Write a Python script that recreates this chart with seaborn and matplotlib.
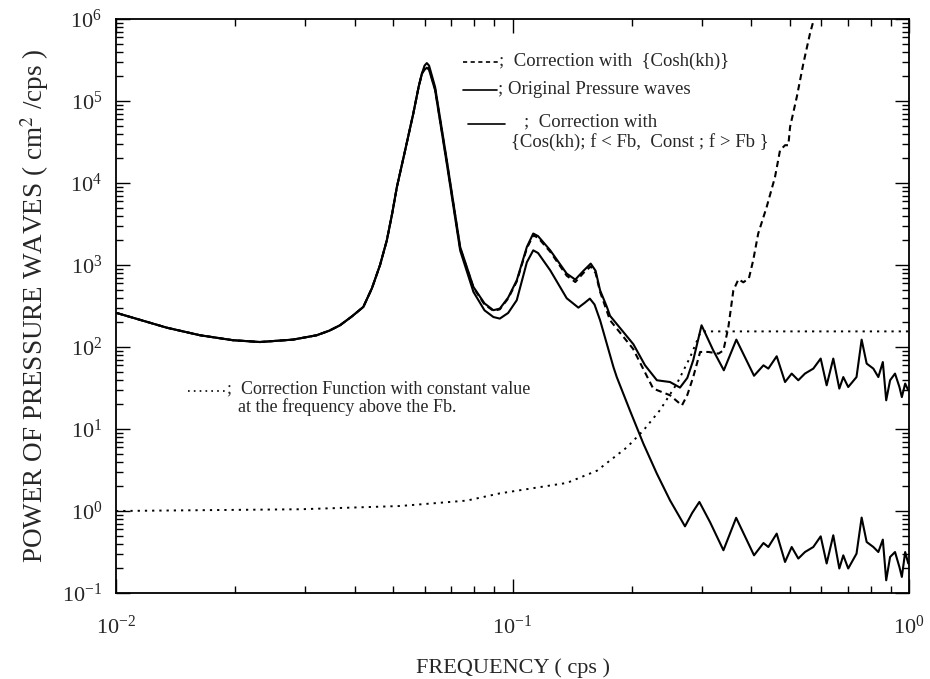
import numpy as np
import pandas as pd
import matplotlib
matplotlib.use("Agg")
import matplotlib.pyplot as plt
from matplotlib.ticker import LogLocator, LogFormatterMathtext, NullFormatter
import seaborn as sns

# ---------------- data ----------------
# part shared by the three spectra (below the main peak)
f_common = [0.01004, 0.01343, 0.01630, 0.01972, 0.02307, 0.02793, 0.03206,
            0.03450, 0.03672, 0.03930, 0.04205, 0.04420, 0.04634, 0.0482,
            0.0497, 0.0511, 0.0537, 0.0562, 0.0580, 0.0591]
p_common = [260, 172, 139, 121, 115, 123, 139, 158, 184, 235, 308, 520, 1000,
            2000, 4200, 8930, 26000, 70100, 150000, 216000]

# original pressure waves
f_orig = [0.0600, 0.0608, 0.0616, 0.0638, 0.0683, 0.0738, 0.0797, 0.0850,
          0.0895, 0.0929, 0.0975, 0.1025, 0.1087, 0.1128, 0.1160, 0.1245,
          0.137, 0.144, 0.1510, 0.1575, 0.1620, 0.1663, 0.173, 0.1762,
          0.2018, 0.2158, 0.2313, 0.2496, 0.2645, 0.2760, 0.2856, 0.2998,
          0.3208, 0.3412, 0.3669, 0.4066, 0.4295, 0.4418, 0.4638, 0.4868,
          0.5060, 0.5258, 0.5465, 0.5737, 0.5988, 0.6199, 0.6442, 0.6672,
          0.6828, 0.7026, 0.7373, 0.7595, 0.7820, 0.8130, 0.8369, 0.8590,
          0.8760, 0.8960, 0.9220, 0.9460, 0.9593, 0.9780, 0.9958]
p_orig = [270000, 290000, 270000, 148000, 18900, 1660, 540, 340, 281, 294,
          400, 650, 1660, 2420, 2250, 1510, 785, 664, 850, 1040, 850, 491, 308,
          240, 108, 60, 39.3, 37.4, 32.0, 42, 68.9, 184, 91, 52, 123, 44.6,
          59.8, 54.5, 77.1, 37.4, 47.4, 39.3, 47.4, 54.5, 72.3, 34.1, 72.3,
          31.1, 43, 32.5, 43, 123, 62.8, 54.5, 43, 65.6, 22.4, 39.3, 47.4,
          32.5, 24.5, 35.8, 29.6]

# correction with cosh(kh)
f_cosh = [0.0600, 0.0608, 0.0616, 0.0638, 0.0683, 0.0738, 0.0797, 0.0850,
          0.0895, 0.0929, 0.0975, 0.1025, 0.1087, 0.1128, 0.1160, 0.1245,
          0.137, 0.144, 0.1510, 0.1575, 0.1620, 0.1663, 0.1762, 0.2014,
          0.2264, 0.2496, 0.2675, 0.2760, 0.2856, 0.2973, 0.3122, 0.3307,
          0.3404, 0.3503, 0.3606, 0.3715, 0.3822, 0.3947, 0.4046, 0.4166,
          0.4375, 0.4592, 0.4728, 0.4868, 0.4963, 0.5012, 0.5212, 0.5414,
          0.5627, 0.5754, 0.60]
p_cosh = [250000, 265000, 250000, 140000, 18000, 1600, 530, 330, 276, 288,
          390, 630, 1600, 2300, 2150, 1450, 740, 620, 800, 960, 800, 470, 212,
          95, 31.1, 25.8, 19.4, 26, 43, 87, 87, 83, 91, 175, 491, 670, 615,
          689, 1140, 2420, 5090, 11800, 25000, 28900, 28900, 48200, 112000,
          286000, 664000, 990000, 2500000]

# correction with cos(kh) below Fb, constant above Fb
f_cos = [0.0600, 0.0608, 0.0616, 0.0638, 0.0683, 0.0738, 0.0797, 0.0850,
         0.0895, 0.0929, 0.0975, 0.1025, 0.1087, 0.1128, 0.1160, 0.1245,
         0.137, 0.1466, 0.1520, 0.1567, 0.1610, 0.1663, 0.1797, 0.1832,
         0.1977, 0.2138, 0.2312, 0.2496, 0.2723, 0.2840, 0.2960, 0.315,
         0.3404, 0.3665, 0.4066, 0.4295, 0.4418, 0.4638, 0.4868, 0.5060,
         0.5258, 0.5465, 0.5737, 0.5988, 0.6199, 0.6442, 0.6672, 0.6828,
         0.7026, 0.7373, 0.7595, 0.7820, 0.8130, 0.8369, 0.8590, 0.8760,
         0.8960, 0.9220, 0.9460, 0.9593, 0.9780, 0.9958]
p_cos = [240000, 255000, 240000, 135000, 17000, 1500, 470, 280, 232, 222,
         260, 372, 1080, 1510, 1400, 861, 393, 302, 345, 389, 330, 212, 57, 43,
         16.9, 6.64, 2.86, 1.35, 0.65, 0.95, 1.29, 0.73, 0.332, 0.826, 0.288,
         0.407, 0.364, 0.530, 0.239, 0.364, 0.263, 0.316, 0.364, 0.491, 0.229,
         0.506, 0.199, 0.288, 0.199, 0.302, 0.832, 0.419, 0.364, 0.316, 0.448,
         0.143, 0.275, 0.316, 0.207, 0.157, 0.316, 0.229]

# correction function (constant above Fb)
f_corr = [0.01, 0.0291, 0.0520, 0.0767, 0.0929, 0.1128, 0.1371, 0.1633,
          0.1945, 0.2138, 0.2355, 0.2600, 0.2805, 0.2973, 0.2998, 1.0]
p_corr = [1.0, 1.05, 1.15, 1.34, 1.64, 1.9, 2.2, 3.1, 6.0, 9.6, 17, 36, 75,
          147, 155, 155]

x_ticks = [0.01, 0.1, 1.0]
y_ticks = [1e-1, 1e0, 1e1, 1e2, 1e3, 1e4, 1e5, 1e6]

# ---------------- style ----------------
sns.set_theme(style="ticks")
plt.rcParams["font.family"] = ["Liberation Serif", "DejaVu Serif"]
plt.rcParams["mathtext.fontset"] = "stix"
plt.rcParams["lines.scale_dashes"] = False
plt.rcParams["axes.unicode_minus"] = False

fig = plt.figure(figsize=(9.30, 6.79), dpi=100)
ax = fig.add_axes([116 / 930, 1 - 593 / 679, 793 / 930, 574 / 679])

def frame(f, p, name):
    return pd.DataFrame({"f": f, "p": p, "series": name})

df_orig = frame(f_common + f_orig, p_common + p_orig, "orig")
df_cosh = frame(f_common + f_cosh, p_common + p_cosh, "cosh")
df_cos = frame(f_common + f_cos, p_common + p_cos, "cos")
df_corr = frame(f_corr, p_corr, "corr")

lw = 1.5
sns.lineplot(data=df_corr, x="f", y="p", sort=False, estimator=None,
             color="black", linewidth=1.4, ax=ax)
ax.lines[-1].set_dashes((1.6, 3.6))
sns.lineplot(data=df_cosh, x="f", y="p", sort=False, estimator=None,
             color="black", linewidth=lw, ax=ax)
ax.lines[-1].set_dashes((4.5, 3.0))
sns.lineplot(data=df_orig, x="f", y="p", sort=False, estimator=None,
             color="black", linewidth=lw, ax=ax)
sns.lineplot(data=df_cos, x="f", y="p", sort=False, estimator=None,
             color="black", linewidth=lw, ax=ax)
for ln in ax.lines:
    ln.set_solid_joinstyle("round")
    ln.set_dash_joinstyle("round")

ax.set_xscale("log")
ax.set_yscale("log")
ax.set_xlim(0.01, 1.0)
ax.set_ylim(0.1, 1e6)

ax.xaxis.set_minor_locator(LogLocator(base=10, subs=np.arange(2, 10), numticks=50))
ax.yaxis.set_minor_locator(LogLocator(base=10, subs=np.arange(2, 10), numticks=50))
ax.xaxis.set_minor_formatter(NullFormatter())
ax.yaxis.set_minor_formatter(NullFormatter())
ax.set_xticks(x_ticks)
ax.set_yticks(y_ticks)
ax.xaxis.set_major_formatter(LogFormatterMathtext())
ax.yaxis.set_major_formatter(LogFormatterMathtext())

ax.tick_params(which="both", direction="in", top=True, right=True,
               color="black", width=1.0)
ax.tick_params(which="major", length=10, labelsize=16)
ax.tick_params(axis="x", which="major", pad=16)
ax.tick_params(axis="y", which="major", pad=10)
ax.tick_params(which="minor", length=5)
for s in ax.spines.values():
    s.set_color("black")
    s.set_linewidth(1.3)

ax.set_xlabel("FREQUENCY ( cps )", fontsize=16, labelpad=14)
ax.set_ylabel("POWER OF PRESSURE WAVES ( cm$^{2}$ /cps )", fontsize=19.5,
              labelpad=8)

# ---------------- annotation key ----------------
tr = ax.transAxes
def ax_x(px):
    return (px - 116) / 793
def ax_y(py):
    return (593 - py) / 574

fs = 13.5
l1, = ax.plot([ax_x(463), ax_x(498)], [ax_y(62)] * 2, color="black", lw=1.2, transform=tr)
l1.set_dashes((3.0, 2.5))
ax.text(ax_x(499), ax_y(61), ";  Correction with  {Cosh(kh)}", transform=tr,
        fontsize=fs, va="center", ha="left")
ax.plot([ax_x(463), ax_x(497)], [ax_y(90)] * 2, color="black", lw=1.2, transform=tr)
ax.text(ax_x(498), ax_y(89), "; Original Pressure waves", transform=tr,
        fontsize=fs, va="center", ha="left")
ax.plot([ax_x(468), ax_x(505)], [ax_y(124)] * 2, color="black", lw=1.2, transform=tr)
ax.text(ax_x(524), ax_y(122), ";  Correction with", transform=tr,
        fontsize=fs, va="center", ha="left")
ax.text(ax_x(511), ax_y(142), "{Cos(kh); f < Fb,  Const ; f > Fb }",
        transform=tr, fontsize=fs, va="center", ha="left")

fs2 = 13
l4, = ax.plot([ax_x(188), ax_x(226)], [ax_y(391)] * 2, color="black", lw=1.2, transform=tr)
l4.set_dashes((1.2, 3.0))
ax.text(ax_x(227), ax_y(389), ";  Correction Function with constant value",
        transform=tr, fontsize=fs2, va="center", ha="left")
ax.text(ax_x(238), ax_y(407), "at the frequency above the Fb.",
        transform=tr, fontsize=fs2, va="center", ha="left")

fig.savefig("out.png", dpi=100)
